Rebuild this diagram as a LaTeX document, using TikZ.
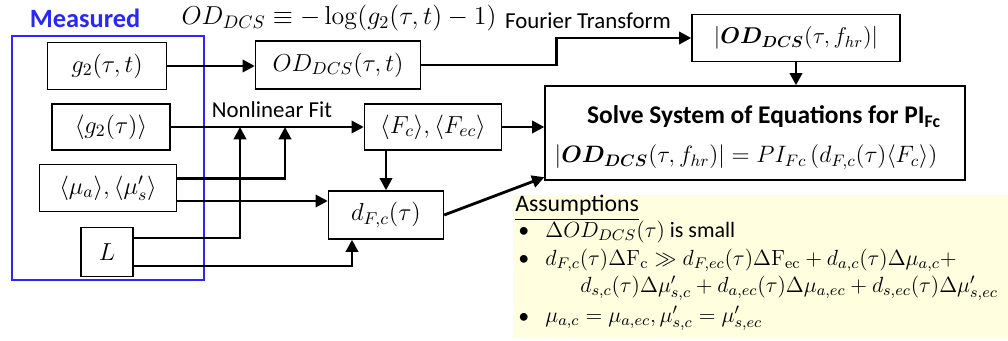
\RequirePackage{fix-cm}
\documentclass[tikz,border=0pt]{standalone}
\usepackage[no-math]{fontspec}
\setmainfont{Carlito}
\usepackage{amsmath,bm}
\usetikzlibrary{arrows.meta}
\definecolor{measblue}{RGB}{40,40,250}
\definecolor{asmyellow}{RGB}{255,255,224}

\begin{document}
\begin{tikzpicture}[x=0.02cm,y=-0.02cm,
  box/.style={draw,line width=0.8pt,inner sep=0pt,font=\fontsize{14}{16}\selectfont},
  conn/.style={line width=1.6pt,-{Triangle[length=7pt,width=7pt]}},
  lbl/.style={font=\fontsize{13}{15}\selectfont},
  asmtxt/.style={anchor=west,inner sep=0pt,font=\fontsize{12.5}{15}\selectfont}]
  \useasboundingbox (0,0) rectangle (1008,341);
  % Measured inputs
  \draw[measblue,line width=0.9pt] (12,36) rectangle (204,280);
  \node[measblue,font=\bfseries\fontsize{15}{17}\selectfont] (meas) at (85,18) {Measured};
  \node[box,minimum width=2.38cm,minimum height=0.94cm] (g2) at (107,66) {$g_2(\tau,t)$};
  \node[box,minimum width=2.36cm,minimum height=0.92cm] (avg) at (111,127) {$\langle g_2(\tau)\rangle$};
  \node[box,minimum width=2.74cm,minimum height=0.94cm] (mu) at (108,188) {$\langle\mu_a\rangle, \langle\mu_s^{\prime}\rangle$};
  \node[box,minimum width=1.04cm,minimum height=0.98cm] (L) at (107,252) {$L$};
  % Processing steps
  \node[box,minimum width=3.3cm,minimum height=0.96cm] (OD) at (338,65) {$OD_{DCS}(\tau,t)$};
  \node[box,minimum width=2.74cm,minimum height=0.92cm] (Fc) at (433,127) {$\langle F_c\rangle, \langle F_{ec}\rangle$};
  \node[box,minimum width=2.3cm,minimum height=0.96cm] (dFc) at (386,215) {$d_{F,c}(\tau)$};
  \node[box,minimum width=4.16cm,minimum height=0.94cm,font=\fontsize{13}{15}\selectfont] (ODf) at (796,38) {$|\bm{OD_{DCS}}(\tau,f_{hr})|$};
  \node[box,minimum width=8.4cm,minimum height=1.88cm] (big) at (755,133) {};
  \node[font=\bfseries\fontsize{14.5}{16}\selectfont] (title) at (764,117) {Solve System of Equations for PI\textsubscript{Fc}};
  \node[font=\fontsize{13.5}{15}\selectfont] (eq) at (746,157) {$|\bm{OD_{DCS}}(\tau,f_{hr})| = PI_{Fc}\left(d_{F,c}(\tau)\langle F_c\rangle\right)$};
  % Labels
  \node[font=\fontsize{14.75}{17}\selectfont] (def) at (339,18) {$OD_{DCS} \equiv -\log(g_2(\tau,t)-1)$};
  \node[lbl] (ft) at (588,21) {Fourier Transform};
  \node[lbl] (nlf) at (272,110) {Nonlinear Fit};
  % Connectors
  \coordinate (fitL) at (240,127);
  \coordinate (fitM) at (285,127);
  \coordinate (mulow) at ([yshift=-7.4pt]mu.east);
  \coordinate (dfoot) at ([xshift=-0.68cm]dFc.south);
  \draw[conn] (g2.east) -- (g2.east -| OD.west);
  \draw[conn] (OD.east) -- ++(135,0) |- (ODf.west);
  \draw[conn] (ODf.south) -- (ODf.south |- big.north);
  \draw[conn] (avg.east) -- (avg.east -| Fc.west);
  \draw[conn] (Fc.east) -- (Fc.east -| big.west);
  \draw[conn] (dFc.north |- Fc.south) -- (dFc.north);
  \draw[conn] (dFc.east) -- ([yshift=2pt]big.south west);
  \draw[conn] ([yshift=5.5pt]mu.east) -| (fitM);
  \draw[conn] (mulow) -- (mulow -| dFc.west);
  \draw[conn] ([yshift=8pt]L.east) -| (fitL);
  \draw[conn] ([yshift=-8pt]L.east) -| (dfoot);
  % Assumptions
  \fill[asmyellow] (513,195) rectangle (1008,338);
  \node[asmtxt,font=\fontsize{13.5}{15}\selectfont] (asm) at (515,208) {\underline{Assumptions}};
  \node[asmtxt] (b1) at (518,232) {\textbullet};
  \node[asmtxt] (a1) at (545,232) {$\Delta OD_{DCS}(\tau)$ is small};
  \node[asmtxt] (b2) at (518,260) {\textbullet};
  \node[asmtxt] (a2) at (545,260) {$d_{F,c}(\tau)\Delta\mathrm{F_c} \gg d_{F,ec}(\tau)\Delta\mathrm{F_{ec}} + d_{a,c}(\tau)\Delta\mu_{a,c} +$};
  \node[asmtxt] (a2b) at (580,288) {$d_{s,c}(\tau)\Delta\mu_{s,c}^{\prime} + d_{a,ec}(\tau)\Delta\mu_{a,ec} + d_{s,ec}(\tau)\Delta\mu_{s,ec}^{\prime}$};
  \node[asmtxt] (b3) at (518,318) {\textbullet};
  \node[asmtxt] (a3) at (545,318) {$\mu_{a,c} = \mu_{a,ec}, \mu_{s,c}^{\prime} = \mu_{s,ec}^{\prime}$};
\end{tikzpicture}
\end{document}
